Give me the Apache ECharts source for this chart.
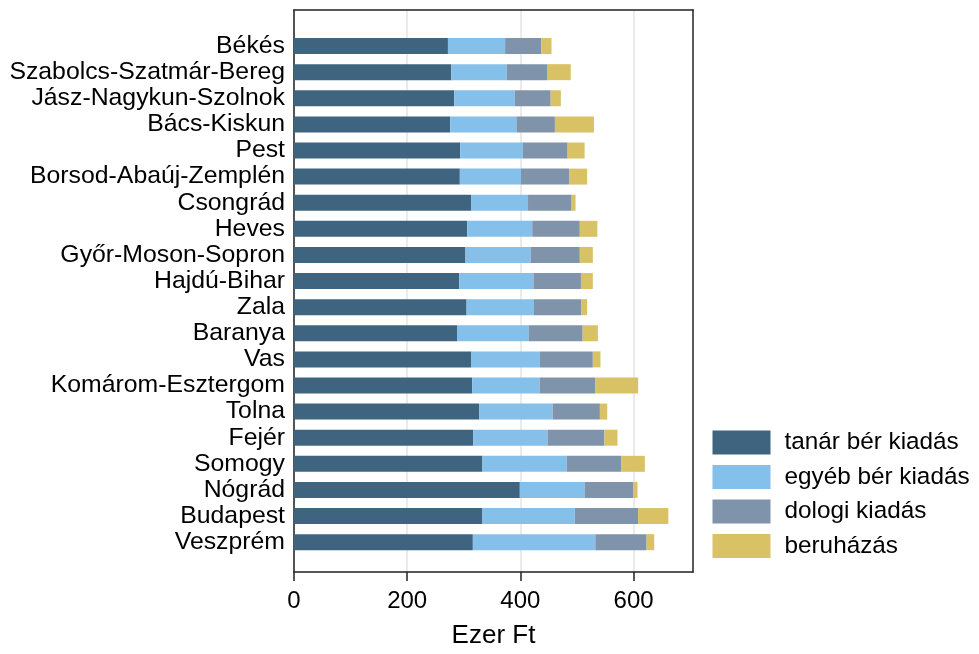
<!DOCTYPE html>
<html>
<head>
<meta charset="utf-8">
<script src="https://cdn.jsdelivr.net/npm/echarts@6/dist/echarts.min.js"></script>
<style>
html,body{margin:0;padding:0;background:#fff;}
#chart{width:979px;height:654px;}
</style>
</head>
<body>
<div id="chart"></div>
<script>
var categories = ["Békés","Szabolcs-Szatmár-Bereg","Jász-Nagykun-Szolnok","Bács-Kiskun","Pest","Borsod-Abaúj-Zemplén","Csongrád","Heves","Győr-Moson-Sopron","Hajdú-Bihar","Zala","Baranya","Vas","Komárom-Esztergom","Tolna","Fejér","Somogy","Nógrád","Budapest","Veszprém"];
var tanarBer = [272,278,283,276,293.5,293,313.5,306,303,292,305,288,313.5,315,327,317,333,399,333,316];
var egyebBer = [101,98,107,117,111,108,100,115,115,131,119,127,121,119,130,131,149,115,163,216.5];
var dologi   = [64,71,63.5,68,79,85,77,84,87,84,84,95,93.5,98,83.5,100.5,96,85,112,90.5];
var beruhazas= [18,42,18,69,30,32,7,31,23,21,10,27,13.5,76,13,23,42,8,53.5,13.5];
var seriesNames = ["tanár bér kiadás","egyéb bér kiadás","dologi kiadás","beruházás"];
var colors = ["#3e6480","#84c0ea","#7f94aa","#d9c266"];
var xTickValues = [0,200,400,600];
var xRange = {min:0, max:705};

var chart = echarts.init(document.getElementById('chart'), null, {renderer:'canvas'});
var font = "'Liberation Sans', Arial, sans-serif";
var values = [tanarBer, egyebBer, dologi, beruhazas];
var series = values.map(function(v,i){
  return {
    name: seriesNames[i], type:'bar', stack:'total', xAxisIndex:0, yAxisIndex:0,
    data: v, barWidth:16, itemStyle:{color:colors[i]}, z:3
  };
});
var frameLine = {show:true, onZero:false, lineStyle:{color:'#222', width:1.5}};
chart.setOption({
  animation:false,
  backgroundColor:'#fff',
  textStyle:{fontFamily:font},
  grid:[
    {left:294, right:286, top:33, height:522.2, containLabel:false},
    {left:294, right:286, top:10, height:567.5, containLabel:false}
  ],
  legend:{
    orient:'vertical', left:712.5, top:430.5, padding:0, itemWidth:58, itemHeight:24, itemGap:10.5,
    icon:'rect', data:seriesNames,
    textStyle:{fontSize:24.3, color:'#000', fontFamily:font, padding:[0,0,0,9]}
  },
  xAxis:[
    {gridIndex:0, type:'value', min:xRange.min, max:xRange.max, show:false},
    {gridIndex:1, type:'value', position:'bottom', min:xRange.min, max:xRange.max, interval:200,
     axisLine:frameLine,
     axisTick:{show:true, length:9, customValues:xTickValues, lineStyle:{color:'#222', width:1.5}},
     axisLabel:{fontSize:24, color:'#000', margin:17, fontFamily:font, verticalAlign:'top', lineHeight:24,
       formatter:function(v){ return xTickValues.indexOf(v) >= 0 ? String(v) : ''; }},
     splitLine:{show:true, lineStyle:{color:'#e4e4e4', width:1.5}},
     name:'Ezer Ft', nameLocation:'middle', nameGap:51,
     nameTextStyle:{fontSize:26, color:'#000', fontFamily:font, verticalAlign:'top', lineHeight:26}},
    {gridIndex:1, type:'value', position:'top', min:xRange.min, max:xRange.max,
     axisLine:frameLine, axisTick:{show:false}, axisLabel:{show:false}, splitLine:{show:false}}
  ],
  yAxis:[
    {gridIndex:0, type:'category', data:categories, inverse:true,
     axisLine:{show:false}, axisTick:{show:false},
     axisLabel:{fontSize:24.8, color:'#000', margin:9, interval:0, fontFamily:font}},
    {gridIndex:1, type:'value', position:'left', min:0, max:1,
     axisLine:frameLine, axisTick:{show:false}, axisLabel:{show:false}, splitLine:{show:false}},
    {gridIndex:1, type:'value', position:'right', min:0, max:1,
     axisLine:frameLine, axisTick:{show:false}, axisLabel:{show:false}, splitLine:{show:false}}
  ],
  series: series
});
</script>
</body>
</html>
